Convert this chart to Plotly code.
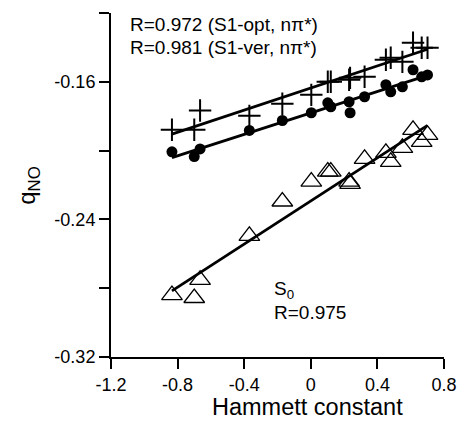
import numpy as np
import plotly.graph_objects as go

# Hammett constants (x) shared by the three series
hammett = [-0.834, -0.700, -0.665, -0.369, -0.171, 0.003, 0.102, 0.120, 0.230, 0.236,
           0.323, 0.451, 0.480, 0.550, 0.614, 0.666, 0.701]

# S1-opt (n-pi*) : plus markers
q_s1_opt = [-0.1879, -0.1879, -0.1767, -0.1798, -0.1728, -0.1676, -0.1600, -0.1600, -0.1588, -0.1577,
            -0.1571, -0.1472, -0.1460, -0.1484, -0.1373, -0.1402, -0.1402]
# S1-ver (n-pi*) : filled circles
q_s1_ver = [-0.2007, -0.2035, -0.1990, -0.1883, -0.1825, -0.1780, -0.1722, -0.1745, -0.1716, -0.1780,
            -0.1687, -0.1617, -0.1658, -0.1629, -0.1530, -0.1571, -0.1560]
# S0 : open triangles
q_s0 = [-0.2840, -0.2857, -0.2752, -0.2496, -0.2296, -0.2180, -0.2122, -0.2122, -0.2180, -0.2193,
        -0.2048, -0.2013, -0.2065, -0.1984, -0.1879, -0.1949, -0.1908]

x_ticks = [-1.2, -0.8, -0.4, 0, 0.4, 0.8]
x_ticktext = ["-1.2", "-0.8", "-0.4", "0", "0.4", "0.8"]
y_ticks = [-0.32, -0.28, -0.24, -0.20, -0.16, -0.12]
y_ticktext = ["-0.32", "", "-0.24", "", "-0.16", ""]

FONT = "Liberation Sans, Arial, sans-serif"
fig = go.Figure()

def fit_line(x, y):
    x = np.asarray(x); y = np.asarray(y)
    k, b = np.polyfit(x, y, 1)
    xs = np.array([x.min(), x.max()])
    return xs, k * xs + b

for ys in (q_s1_opt, q_s1_ver, q_s0):
    lx, ly = fit_line(hammett, ys)
    fig.add_trace(go.Scatter(x=lx, y=ly, mode="lines", line=dict(color="black", width=2.8),
                             showlegend=False, hoverinfo="skip"))

fig.add_trace(go.Scatter(x=hammett, y=q_s1_opt, mode="markers", showlegend=False,
                         marker=dict(symbol="cross-thin", size=16, line=dict(color="black", width=2))))
fig.add_trace(go.Scatter(x=hammett, y=q_s1_ver, mode="markers", showlegend=False,
                         marker=dict(symbol="circle", size=11, color="black")))
fig.add_trace(go.Scatter(x=hammett, y=q_s0, mode="markers", showlegend=False,
                         marker=dict(symbol="triangle-up-open", size=18, color="black",
                                     line=dict(color="black", width=1.3))))

ann = [
    dict(x=-1.1, y=-0.1268, text="R=0.972 (S1-opt, nπ*)"),
    dict(x=-1.1, y=-0.1402, text="R=0.981 (S1-ver, nπ*)"),
    dict(x=-0.235, y=-0.281, text="S<sub>0</sub>"),
    dict(x=-0.235, y=-0.294, text="R=0.975"),
]
for a in ann:
    fig.add_annotation(x=a["x"], y=a["y"], text=a["text"], showarrow=False, xanchor="left",
                       yanchor="middle", font=dict(family=FONT, size=19, color="black"))

# axis titles
fig.add_annotation(x=-0.02, xref="x", y=-0.145, yref="paper", text="Hammett constant",
                   showarrow=False, xanchor="center", yanchor="middle",
                   font=dict(family=FONT, size=23.5, color="black"))
fig.add_annotation(x=-0.25, xref="paper", y=0.5, yref="paper", text="q<sub>NO</sub>",
                   showarrow=False, xanchor="center", yanchor="middle", textangle=-90,
                   font=dict(family=FONT, size=24, color="black"))

axis_common = dict(showgrid=False, zeroline=False, showline=True, linecolor="black", linewidth=2,
                   ticks="outside", ticklen=10, tickwidth=2, tickcolor="black",
                   tickfont=dict(family=FONT, size=18, color="black"))
fig.update_xaxes(range=[-1.2, 0.8], tickvals=x_ticks, ticktext=x_ticktext, **axis_common)
fig.update_yaxes(range=[-0.32, -0.12], tickvals=y_ticks, ticktext=y_ticktext, **axis_common)
fig.update_layout(width=469, height=427, margin=dict(l=111, r=14, t=13, b=70),
                  plot_bgcolor="white", paper_bgcolor="white")
fig.write_html("out.html")
